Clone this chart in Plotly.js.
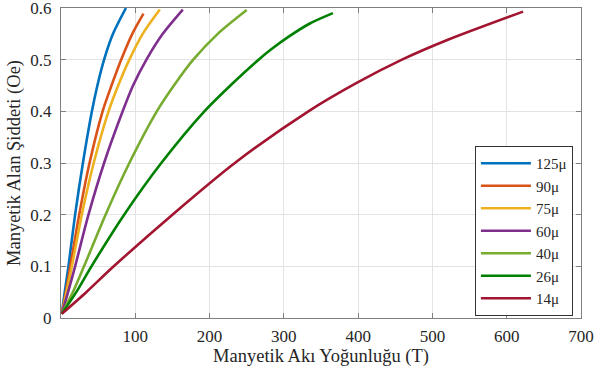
<!DOCTYPE html>
<html>
<head>
<meta charset="utf-8">
<script src="https://cdn.plot.ly/plotly-3.0.1.min.js"></script>
<style>
html,body{margin:0;padding:0;background:#fff}
#chart{width:597px;height:376px}
</style>
</head>
<body>
<div id="chart"></div>
<script>
const seriesNames = ["125\u03bc", "90\u03bc", "75\u03bc", "60\u03bc", "40\u03bc", "26\u03bc", "14\u03bc"];
const colors = ["#0072BD", "#D95319", "#EDB120", "#7E2F8E", "#77AC30", "#008000", "#A2142F"];

const x125 = [1, 5, 10, 19, 29.5, 41.6, 49, 58, 70, 87.5];
const y125 = [0.008, 0.05, 0.1, 0.2, 0.3, 0.4, 0.45, 0.5, 0.55, 0.6];
const x90 = [1, 6.5, 12.5, 24.5, 38.4, 56, 68, 81, 96, 111];
const y90 = [0.008, 0.05, 0.1, 0.2, 0.3, 0.4, 0.45, 0.5, 0.55, 0.589];
const x75 = [1, 7.5, 14.6, 28, 44, 64, 77, 92, 110, 133];
const y75 = [0.008, 0.05, 0.1, 0.2, 0.3, 0.4, 0.45, 0.5, 0.55, 0.597];
const x60 = [1, 9.5, 19, 37, 58, 83, 97, 115, 137, 164];
const y60 = [0.008, 0.05, 0.1, 0.2, 0.3, 0.4, 0.45, 0.5, 0.55, 0.597];
const x40 = [1, 16, 31, 60, 92, 129, 152, 178, 211, 250];
const y40 = [0.008, 0.05, 0.1, 0.2, 0.3, 0.4, 0.45, 0.5, 0.55, 0.596];
const x26 = [1, 20.5, 41, 85, 135, 193, 228, 266, 283, 307, 335, 366];
const y26 = [0.008, 0.05, 0.1, 0.2, 0.3, 0.4, 0.45, 0.5, 0.52, 0.545, 0.57, 0.59];
const x14 = [1, 34, 71, 150, 234, 333, 398, 459, 520, 622];
const y14 = [0.008, 0.05, 0.1, 0.2, 0.3, 0.4, 0.455, 0.5, 0.538, 0.593];

const xs = [x125, x90, x75, x60, x40, x26, x14];
const ys = [y125, y90, y75, y60, y40, y26, y14];

const xTickVals = [100, 200, 300, 400, 500, 600, 700];
const yTickVals = [0, 0.1, 0.2, 0.3, 0.4, 0.5, 0.6];
const yTickText = ["0", "0.1", "0.2", "0.3", "0.4", "0.5", "0.6"];

const traces = seriesNames.map((n, i) => ({
  x: xs[i], y: ys[i], name: n, type: "scatter", mode: "lines",
  line: {color: colors[i], width: 2.6, shape: "spline", smoothing: 0.8}
}));

const fam = "Liberation Serif, Times New Roman, Times, serif";
const font = {family: fam, size: 17, color: "#262626"};
const titleFont = {family: fam, size: 18.5, color: "#262626"};
const axisCommon = {
  showline: true, mirror: "ticks", linecolor: "#7f7f7f", linewidth: 1,
  ticks: "inside", ticklen: 5, tickcolor: "#7f7f7f",
  showgrid: true, gridcolor: "#e3e3e3", gridwidth: 1, zeroline: false,
  tickfont: font, ticklabeloverflow: "allow", automargin: false
};

const layout = {
  width: 597, height: 376,
  margin: {l: 61, r: 16, t: 8, b: 58},
  paper_bgcolor: "#ffffff", plot_bgcolor: "#ffffff",
  font: font,
  showlegend: true,
  xaxis: Object.assign({}, axisCommon, {
    range: [0, 700.0001], tickvals: xTickVals, ticklabelstandoff: 3,
    title: {text: "Manyetik Ak\u0131 Yo\u011funlu\u011fu (T)", font: titleFont, standoff: 2}
  }),
  yaxis: Object.assign({}, axisCommon, {
    range: [0, 0.600001], tickvals: yTickVals, ticktext: yTickText, ticklabelstandoff: 5,
    title: {text: "Manyetik Alan \u015eiddeti (Oe)", font: titleFont, standoff: 4}
  }),
  legend: {
    x: 0.796, y: 0.555, xanchor: "left", yanchor: "top",
    bgcolor: "#ffffff", bordercolor: "#333333", borderwidth: 1,
    font: {family: fam, size: 15, color: "#262626"}, itemwidth: 50, tracegroupgap: 0
  }
};

Plotly.newPlot("chart", traces, layout, {displayModeBar: false, staticPlot: true});
</script>
</body>
</html>
